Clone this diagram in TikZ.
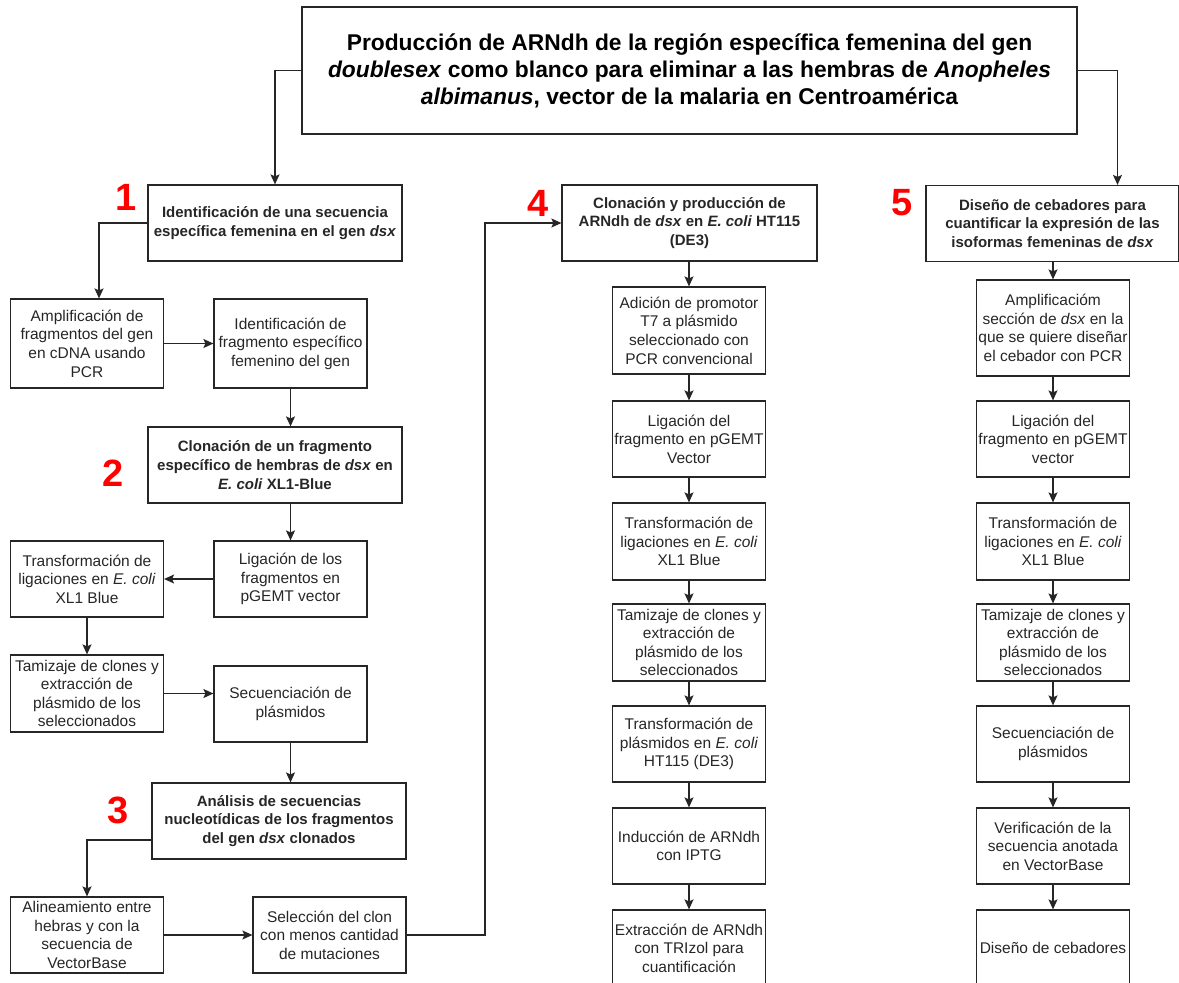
\documentclass[tikz,border=0pt]{standalone}
\usepackage{fontspec}
\setmainfont{Liberation Sans}
\usetikzlibrary{arrows.meta, positioning}

\begin{document}
\begin{tikzpicture}[
  x=1pt, y=-1pt,
  every node/.style={font=\fontsize{15.5}{18.6}\selectfont, text=black!85},
  box/.style={
    rectangle, draw=black!85, line width=1.2pt,
    minimum width=153pt, minimum height=76pt,
    align=center, inner sep=0pt
  },
  bbox/.style={box, minimum width=254pt, font=\fontsize{15}{18.6}\selectfont\bfseries},
  tbox/.style={box, minimum width=775pt, minimum height=127pt,
    font=\fontsize{22.8}{27}\selectfont\bfseries, text=black},
  num/.style={text=red, font=\fontsize{38}{38}\selectfont\bfseries},
  arr/.style={-{Stealth[length=10pt, width=9pt, inset=2pt]}, line width=1.2pt, draw=black!85}
]
\path[use as bounding box, clip] (0,0) rectangle (1179,983);

% title
\node[tbox] (title) at (689.5, 70.5)
  {Producción de ARNdh de la región específica femenina del gen\\
   \textit{doublesex} como blanco para eliminar a las hembras de \textit{Anopheles}\\
   \textit{albimanus}, vector de la malaria en Centroamérica};

% left column (steps 1 to 3)
\node[bbox] (b1)  at (275, 223)   {Identificación de una secuencia\\específica femenina en el gen \textit{dsx}};
\node[num]  (n1)  at (126, 197)   {1};
\node[box, minimum height=89pt] (amp) at (87, 343.5)  {Amplificación de\\fragmentos del gen\\en cDNA usando\\PCR};
\node[box, minimum height=89pt] (idf) at (290.5, 343.5) {Identificación de\\fragmento específico\\femenino del gen};

\node[bbox] (b2)  at (275, 465)   {Clonación de un fragmento\\específico de hembras de \textit{dsx} en\\\textit{E. coli} XL1-Blue};
\node[num]  (n2)  at (113, 473)   {2};
\node[box]  (lig) at (290.5, 579) {Ligación de los\\fragmentos en\\pGEMT vector};
\node[box]  (trf) at (87, 579)    {Transformación de\\ligaciones en \textit{E. coli}\\XL1 Blue};
\node[box, minimum height=77pt] (tam) at (87, 693.5) {Tamizaje de clones y\\extracción de\\plásmido de los\\seleccionados};
\node[box]  (sec) at (290.5, 704) {Secuenciación de\\plásmidos};

\node[bbox] (b3)  at (279, 821)   {Análisis de secuencias\\nucleotídicas de los fragmentos\\del gen \textit{dsx} clonados};
\node[num]  (n3)  at (118, 810)   {3};
\node[box]  (ali) at (87, 935)    {Alineamiento entre\\hebras y con la\\secuencia de\\VectorBase};
\node[box]  (sel) at (329.5, 935) {Selección del clon\\con menos cantidad\\de mutaciones};
\coordinate (up) at (485, 935);

% center column (step 4)
\node[bbox, minimum width=255pt] (b4) at (689.5, 223) {Clonación y producción de\\ARNdh de \textit{dsx} en \textit{E. coli} HT115\\(DE3)};
\node[num]  (n4)  at (538, 203)   {4};
\node[box, minimum height=87pt] (c4a) at (689, 330.5) {Adición de promotor\\T7 a plásmido\\seleccionado con\\PCR convencional};
\node[box]  (c4b) at (689, 439)   {Ligación del\\fragmento en pGEMT\\Vector};
\node[box, minimum height=77pt] (c4c) at (689, 541.5) {Transformación de\\ligaciones en \textit{E. coli}\\XL1 Blue};
\node[box, minimum height=77pt] (c4d) at (689, 642.5) {Tamizaje de clones y\\extracción de\\plásmido de los\\seleccionados};
\node[box]  (c4e) at (689, 744)   {Transformación de\\plásmidos en \textit{E. coli}\\HT115 (DE3)};
\node[box]  (c4f) at (689, 846)   {Inducción de ARNdh\\con IPTG};
\node[box]  (c4g) at (689, 948)   {Extracción de ARNdh\\con TRIzol para\\cuantificación};

% right column (step 5)
\node[bbox, minimum width=253pt] (b5) at (1052.5, 223.5) {Diseño de cebadores para\\cuantificar la expresión de las\\isoformas femeninas de \textit{dsx}};
\node[num]  (n5)  at (902, 203)   {5};
\node[box, minimum height=96pt] (c5a) at (1053, 328) {Amplificacióm\\sección de \textit{dsx} en la\\que se quiere diseñar\\el cebador con PCR};
\node[box]  (c5b) at (1053, 439)  {Ligación del\\fragmento en pGEMT\\vector};
\node[box, minimum height=77pt] (c5c) at (1053, 541.5) {Transformación de\\ligaciones en \textit{E. coli}\\XL1 Blue};
\node[box, minimum height=77pt] (c5d) at (1053, 642.5) {Tamizaje de clones y\\extracción de\\plásmido de los\\seleccionados};
\node[box]  (c5e) at (1053, 744)  {Secuenciación de\\plásmidos};
\node[box]  (c5f) at (1053, 846)  {Verificación de la\\secuencia anotada\\en VectorBase};
\node[box]  (c5g) at (1053, 948)  {Diseño de cebadores};

% ======================
% FLOWS
% ======================

% title -> steps 1 and 5
\draw[arr] (title.west) -| (b1.north);
\draw[arr] (title.east) -| ([xshift=65pt]b5.north);

% step 1 -> step 2
\draw[arr] (b1.west) -| ([xshift=12pt]amp.north);
\draw[arr] (amp.east) -- (idf.west);
\draw[arr] (idf.south) -- (idf.south |- b2.north);

% step 2 -> step 3
\draw[arr] (lig.north |- b2.south) -- (lig.north);
\draw[arr] (lig.west) -- (trf.east);
\draw[arr] (trf.south) -- (tam.north);
\draw[arr] (tam.east) -- (tam.east -| sec.west);
\draw[arr] (sec.south) -- (sec.south |- b3.north);

% step 3 -> step 4
\draw[arr] ([yshift=-19pt]b3.west) -| (ali.north);
\draw[arr] (ali.east) -- (sel.west);
\draw[arr] (sel.east) -- (up) |- (b4.west);

% step 4 chain
\draw[arr] (c4a.north |- b4.south) -- (c4a.north);
\foreach \a/\b in {c4a/c4b, c4b/c4c, c4c/c4d, c4d/c4e, c4e/c4f, c4f/c4g}
  \draw[arr] (\a.south) -- (\b.north);

% step 5 chain
\draw[arr] (b5.south -| c5a.north) -- (c5a.north);
\foreach \a/\b in {c5a/c5b, c5b/c5c, c5c/c5d, c5d/c5e, c5e/c5f, c5f/c5g}
  \draw[arr] (\a.south) -- (\b.north);

\end{tikzpicture}
\end{document}
